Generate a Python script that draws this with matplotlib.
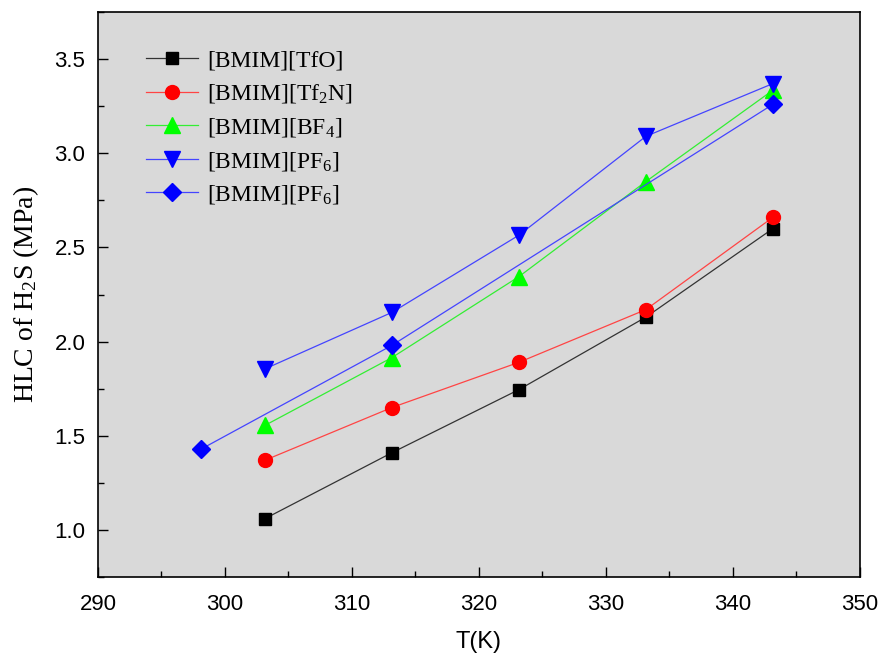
import matplotlib
matplotlib.use("Agg")
import matplotlib.pyplot as plt
from matplotlib.ticker import MultipleLocator

plt.rcParams["mathtext.fontset"] = "custom"
plt.rcParams["mathtext.rm"] = "Liberation Serif"
plt.rcParams["mathtext.default"] = "rm"

T5 = [303.15, 313.15, 323.15, 333.15, 343.15]
T3 = [298.15, 313.15, 343.15]
tfo = [1.06, 1.41, 1.745, 2.13, 2.60]
tf2n = [1.37, 1.65, 1.89, 2.17, 2.66]
bf4 = [1.555, 1.915, 2.345, 2.85, 3.335]
pf6_a = [1.855, 2.155, 2.565, 3.09, 3.37]
pf6_b = [1.43, 1.98, 3.26]
labels = ["[BMIM][TfO]", "[BMIM][Tf$_2$N]", "[BMIM][BF$_4$]", "[BMIM][PF$_6$]", "[BMIM][PF$_6$]"]

fig = plt.figure(figsize=(8.82, 6.59), dpi=100)
ax = fig.add_axes([0.111, 0.1244, 0.864, 0.8574])
ax.set_facecolor("#d9d9d9")

series = [
    (T5, tfo, "s", "#000000", "#333333", 9),
    (T5, tf2n, "o", "#ff0000", "#ff4444", 10),
    (T5, bf4, "^", "#00ff00", "#33ee33", 11),
    (T5, pf6_a, "v", "#0000ff", "#4444ff", 11),
    (T3, pf6_b, "D", "#0000ff", "#4444ff", 9),
]
for (x, y, m, mc, lc, ms), lab in zip(series, labels):
    ax.plot(x, y, color=lc, lw=0.9, marker=m, markersize=ms,
            markerfacecolor=mc, markeredgecolor=mc, label=lab)

ax.set_xlim(290, 350)
ax.set_ylim(0.75, 3.75)
ax.xaxis.set_major_locator(MultipleLocator(10))
ax.xaxis.set_minor_locator(MultipleLocator(5))
ax.yaxis.set_major_locator(MultipleLocator(0.5))
ax.yaxis.set_minor_locator(MultipleLocator(0.25))
ax.tick_params(which="both", direction="in", top=False, right=False)
ax.tick_params(which="major", length=7, width=1)
ax.tick_params(which="minor", length=4, width=1)
for lbl in ax.get_xticklabels() + ax.get_yticklabels():
    lbl.set_fontfamily("Liberation Sans")
    lbl.set_fontsize(16)
ax.tick_params(axis="x", pad=12)
ax.tick_params(axis="y", pad=9)
for s in ax.spines.values():
    s.set_linewidth(1.2)

ax.set_xlabel("T(K)", fontfamily="Liberation Sans", fontsize=17, labelpad=12)
ax.set_ylabel("HLC of H$_2$S (MPa)", fontfamily="Liberation Serif", fontsize=20, labelpad=10)

leg = ax.legend(loc="upper left", bbox_to_anchor=(0.035, 0.97), frameon=False,
                prop={"family": "Liberation Serif", "size": 17},
                handlelength=2.2, labelspacing=0.45, handletextpad=0.4)

fig.savefig("out.png", dpi=100)
